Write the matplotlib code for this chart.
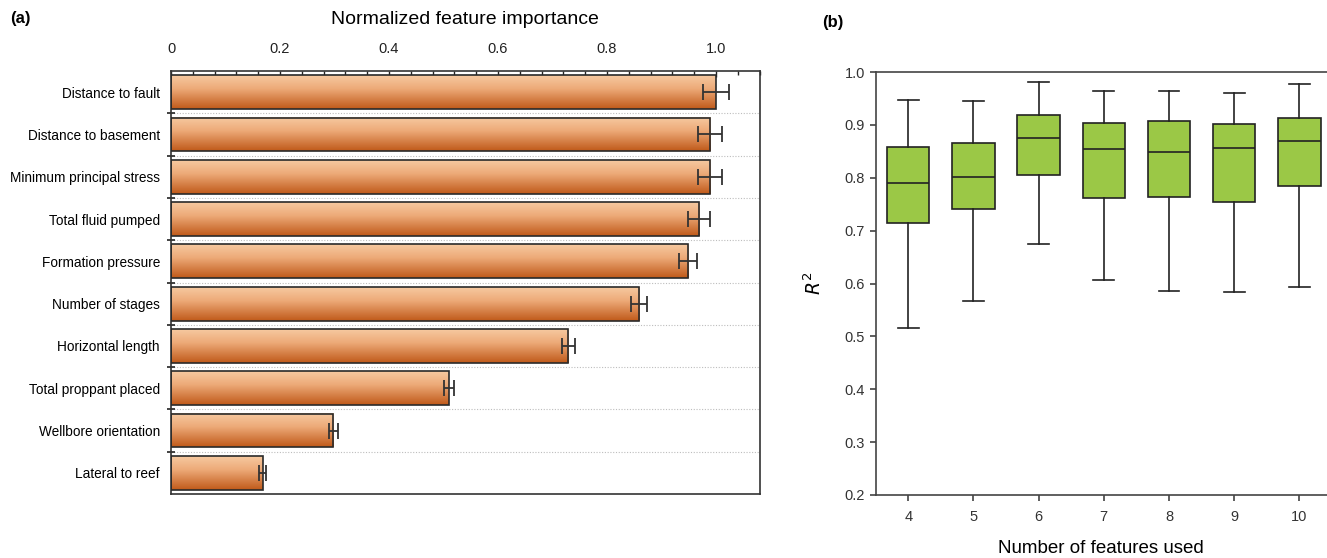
import numpy as np
import matplotlib
matplotlib.use("Agg")
import matplotlib.pyplot as plt
from matplotlib.colors import LinearSegmentedColormap
from matplotlib.ticker import MultipleLocator, FixedLocator

plt.rcParams['font.family'] = ['Liberation Sans', 'DejaVu Sans']

# (a) normalized feature importance
features = ["Distance to fault", "Distance to basement", "Minimum principal stress",
            "Total fluid pumped", "Formation pressure", "Number of stages",
            "Horizontal length", "Total proppant placed", "Wellbore orientation",
            "Lateral to reef"]
importance = [1.0, 0.990, 0.990, 0.969, 0.949, 0.859, 0.729, 0.510, 0.298, 0.168]
importance_err = [0.024, 0.022, 0.022, 0.020, 0.016, 0.014, 0.012, 0.009, 0.008, 0.0065]

# (b) R2 vs number of features used
n_features = [4, 5, 6, 7, 8, 9, 10]
r2_whishi = [0.947, 0.946, 0.981, 0.964, 0.965, 0.960, 0.977]
r2_q3 = [0.859, 0.866, 0.919, 0.903, 0.908, 0.902, 0.913]
r2_med = [0.790, 0.802, 0.876, 0.854, 0.849, 0.856, 0.870]
r2_q1 = [0.715, 0.741, 0.806, 0.761, 0.763, 0.755, 0.784]
r2_whislo = [0.515, 0.567, 0.674, 0.606, 0.586, 0.584, 0.594]

W, H = 1327, 558
fig = plt.figure(figsize=(W / 100, H / 100), dpi=100)

# ---- panel (a)
ax1 = fig.add_axes([171 / W, 1 - 494 / H, (759.5 - 171) / W, (494 - 71) / H])
bar_cmap = LinearSegmentedColormap.from_list(
    "peach", [(0, "#F6C9A0"), (0.4, "#EDAA78"), (1, "#C05A1A")])
grad = np.linspace(0, 1, 100).reshape(-1, 1)
bar_h = 0.80
ypos = np.arange(len(features))
for y, v in zip(ypos, importance):
    ax1.imshow(grad, extent=(0, v, y + bar_h / 2, y - bar_h / 2), aspect='auto',
               cmap=bar_cmap, origin='upper', zorder=2)
ax1.barh(ypos, importance, height=bar_h, fill=False, edgecolor="#2a2a2a",
         linewidth=1.2, zorder=3)
ax1.errorbar(importance, ypos, xerr=importance_err, fmt='none', ecolor="#333333",
             elinewidth=1.3, capsize=5.5, capthick=1.3, zorder=4)

ax1.set_xlim(0, 1.08)
ax1.set_ylim(len(features) - 0.5, -0.5)
ax1.set_aspect('auto')

for b in np.arange(0.5, len(features) - 0.5):
    ax1.axhline(b, color="#bdbdbd", linestyle=(0, (1, 1.5)), linewidth=0.8, zorder=1)

ax1.xaxis.tick_top()
ax1.xaxis.set_label_position('top')
ax1.set_xticks([0, 0.2, 0.4, 0.6, 0.8, 1.0])
ax1.set_xticklabels(["0", "0.2", "0.4", "0.6", "0.8", "1.0"])
ax1.xaxis.set_minor_locator(MultipleLocator(0.04))
ax1.tick_params(axis='x', which='major', direction='in', length=4, width=1,
                labelsize=10.5, pad=11, colors="#222222")
ax1.tick_params(axis='x', which='minor', direction='in', length=3, width=1,
                colors="#222222")
ax1.set_xlabel("Normalized feature importance", fontsize=14, labelpad=13)

ax1.set_yticks(ypos)
ax1.set_yticklabels(features)
ax1.yaxis.set_minor_locator(FixedLocator(np.arange(0.5, len(features) - 0.5)))
ax1.tick_params(axis='y', which='major', length=0, labelsize=9.8, pad=8)
ax1.tick_params(axis='y', which='minor', direction='inout', length=5.5, width=1.2,
                colors="#222222")
for s in ax1.spines.values():
    s.set_color("#333333")
    s.set_linewidth(1.2)

# ---- panel (b)
ax2 = fig.add_axes([875.6 / W, 1 - 495 / H, (W - 875.6) / W, (495 - 72) / H])
stats = []
for i, n in enumerate(n_features):
    stats.append(dict(label=str(n), med=r2_med[i], q1=r2_q1[i], q3=r2_q3[i],
                      whislo=r2_whislo[i], whishi=r2_whishi[i], fliers=[]))
ax2.bxp(stats, positions=n_features, widths=0.65, capwidths=0.32,
        patch_artist=True, showfliers=False,
        boxprops=dict(facecolor="#9BC846", edgecolor="#222222", linewidth=1.2),
        medianprops=dict(color="#222222", linewidth=1.2),
        whiskerprops=dict(color="#222222", linewidth=1.2),
        capprops=dict(color="#222222", linewidth=1.2))
ax2.set_xlim(3.5, 3.5 + (W - 875.6) / 65.2)
ax2.set_ylim(0.2, 1.0)
ax2.set_yticks(np.arange(0.2, 1.01, 0.1))
ax2.set_yticklabels([f"{v:.1f}" for v in np.arange(0.2, 1.01, 0.1)])
ax2.set_xticks(n_features)
ax2.set_xticklabels([str(n) for n in n_features])
ax2.tick_params(axis='both', direction='out', length=4.5, width=1.1,
                labelsize=10.5, colors="#333333")
ax2.tick_params(axis='y', pad=3)
ax2.tick_params(axis='x', pad=6.5)
ax2.spines['right'].set_visible(False)
for s in ['left', 'top', 'bottom']:
    ax2.spines[s].set_color("#444444")
    ax2.spines[s].set_linewidth(1.2)
ax2.set_xlabel("Number of features used", fontsize=13.5, labelpad=11)
ax2.set_ylabel(r"$R^2$", fontsize=13.5, labelpad=14)

fig.text(20 / W, 1 - 18 / H, "(a)", fontsize=12, fontweight='bold', ha='center', va='center')
fig.text(833 / W, 1 - 23 / H, "(b)", fontsize=12, fontweight='bold', ha='center', va='center')

fig.savefig("out.png", dpi=100)
